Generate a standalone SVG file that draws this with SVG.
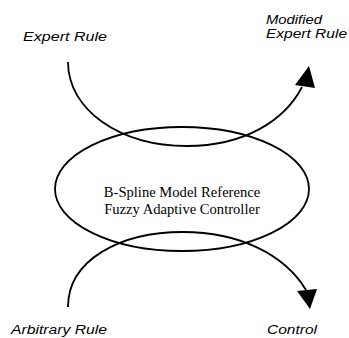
<svg xmlns="http://www.w3.org/2000/svg" width="349" height="338" viewBox="0 0 349 338">
  <style>
    .lbl { font-family: "Liberation Sans", Arial, sans-serif; font-style: italic; font-size: 13px; fill: #000; }
    .ctr { font-family: "Liberation Serif", "Times New Roman", serif; font-size: 14.6px; fill: #000; text-anchor: middle; }
    .edge { fill: none; stroke: #000; stroke-width: 1.8; }
    .head { fill: #000; stroke: none; }
  </style>
  <rect width="349" height="338" fill="#fff"/>
  <g id="controller">
    <ellipse cx="182" cy="189" rx="127" ry="62" fill="none" stroke="#000" stroke-width="1.8"/>
    <text class="ctr" x="182" y="197">B-Spline Model Reference</text>
    <text class="ctr" x="182" y="214">Fuzzy Adaptive Controller</text>
  </g>
  <g id="expert-rule">
    <text class="lbl" x="23" y="41" textLength="84" lengthAdjust="spacingAndGlyphs">Expert Rule</text>
  </g>
  <g id="modified-expert-rule">
    <text class="lbl" x="266" y="23.5" textLength="56" lengthAdjust="spacingAndGlyphs">Modified</text>
    <text class="lbl" x="266" y="38.3" textLength="81" lengthAdjust="spacingAndGlyphs">Expert Rule</text>
  </g>
  <g id="arbitrary-rule">
    <text class="lbl" x="11" y="334" textLength="96" lengthAdjust="spacingAndGlyphs">Arbitrary Rule</text>
  </g>
  <g id="control">
    <text class="lbl" x="267" y="334" textLength="50" lengthAdjust="spacingAndGlyphs">Control</text>
  </g>
  <g id="connectors">
    <path class="edge" d="M68,62 C68,110 120,146 187,146 C245,146 285,120 302,87"/>
    <polygon class="head" points="309,66 295,85 315,88"/>
    <path class="edge" d="M68,307 C68,260 120,232 183,232 C240,232 285,255 306,290"/>
    <polygon class="head" points="297,291 317,289 310,309"/>
  </g>
</svg>
